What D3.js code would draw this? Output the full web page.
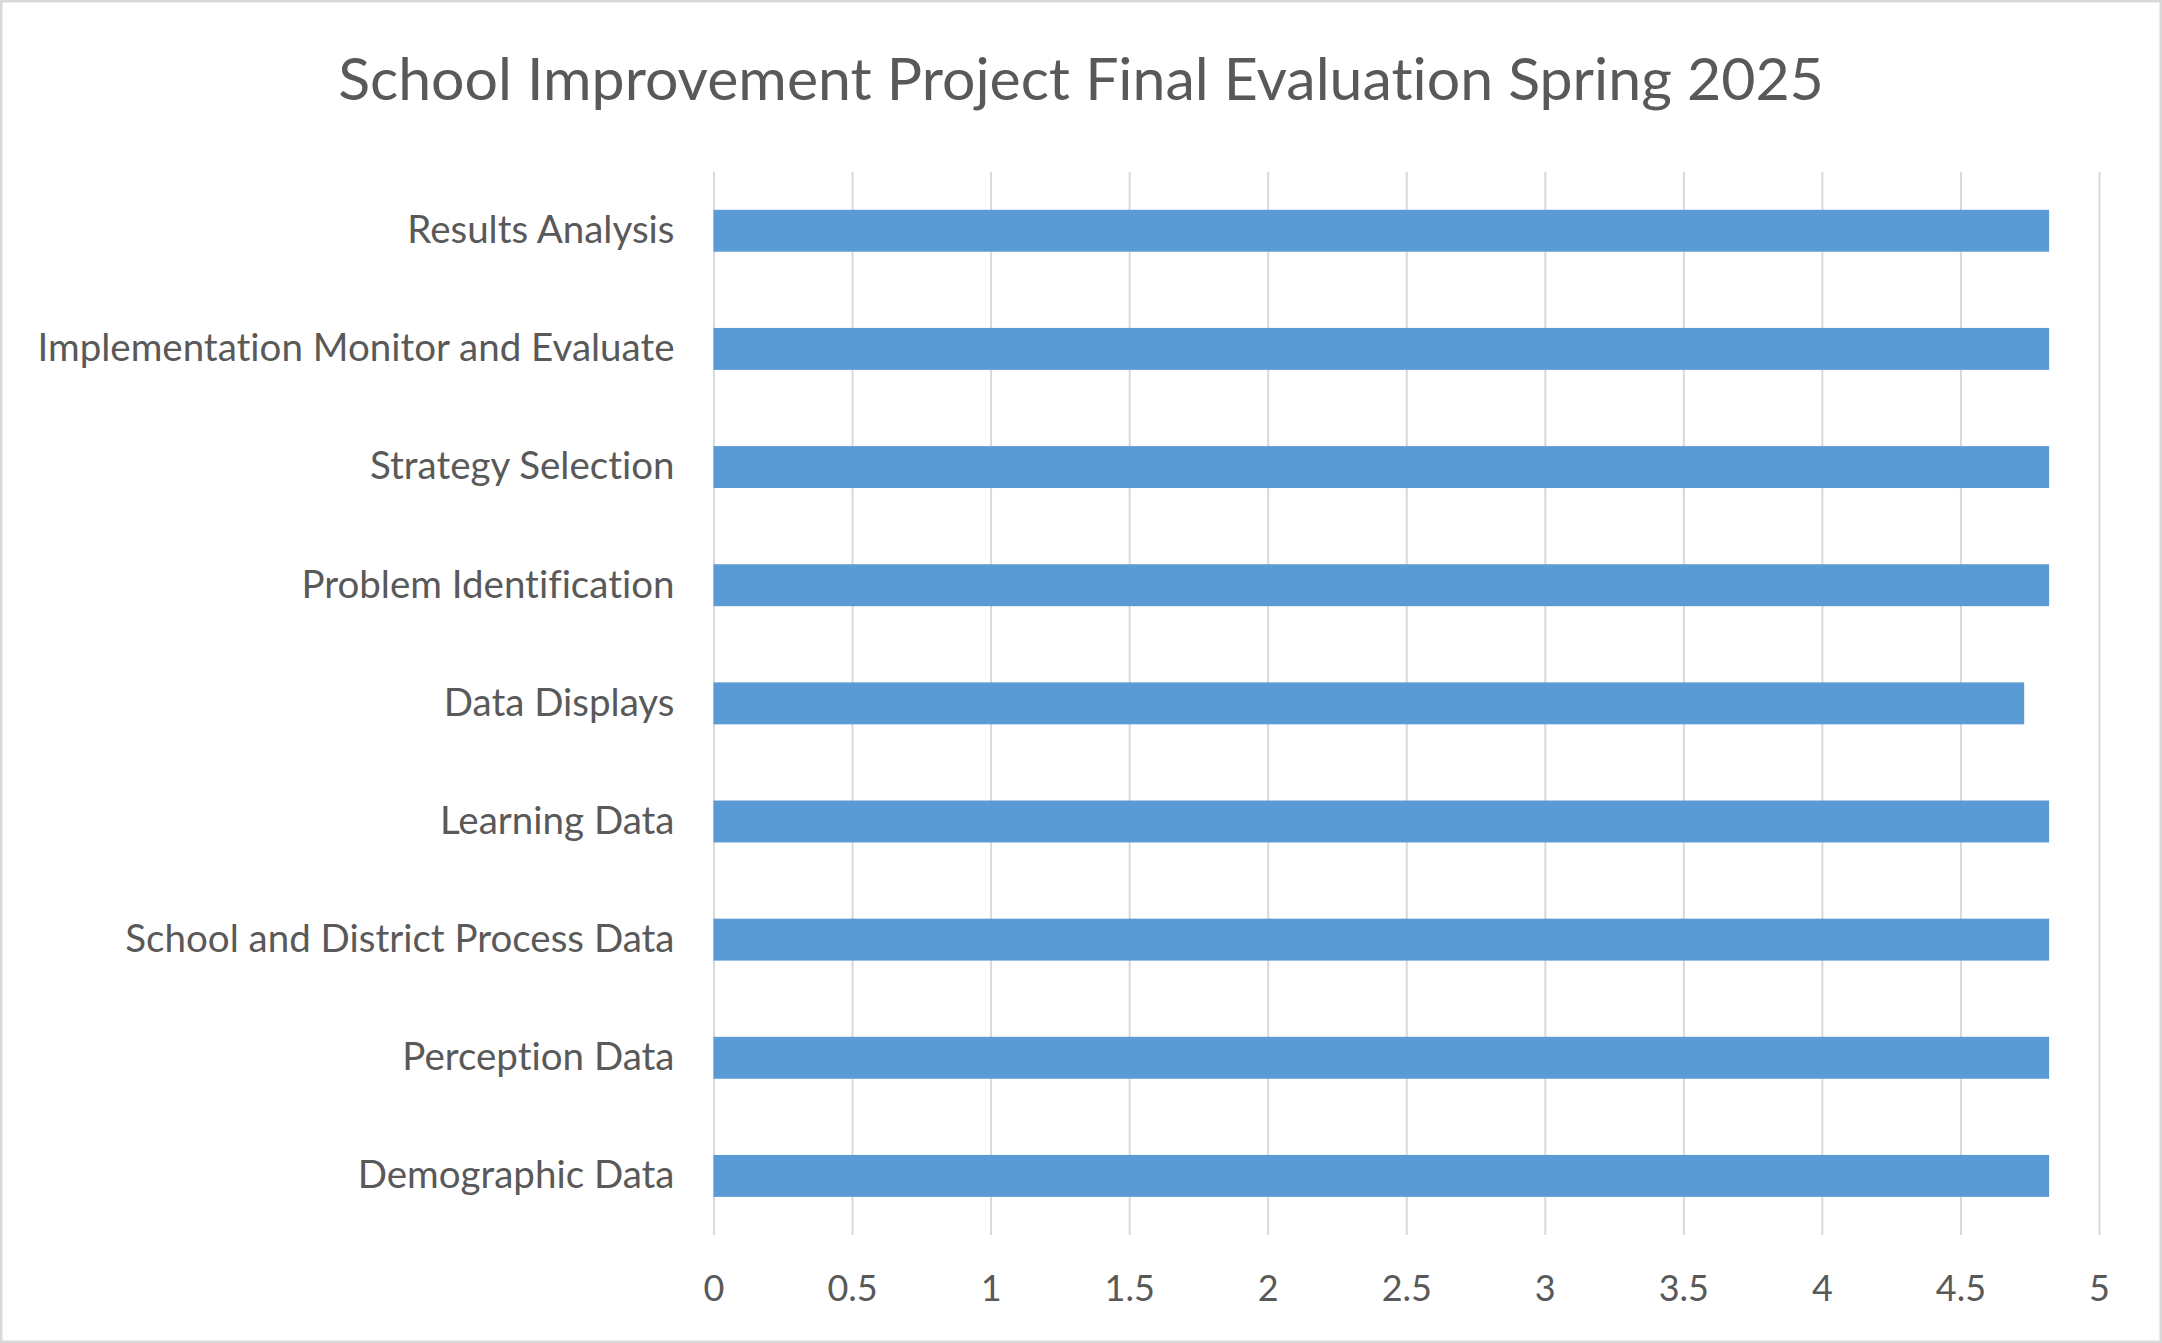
<!DOCTYPE html>
<html lang="en">
  <head>
    <meta charset="utf-8">
    <title>School Improvement Project Final Evaluation Spring 2025</title>
    <script type="text/javascript" src="https://cdn.jsdelivr.net/npm/d3@7"></script>
    <style>
      body { margin: 0; background: #fff; }
      text { font-family: Lato, "Open Sans", sans-serif; fill: #595959; font-variant-ligatures: none; }
      .grid line { stroke: #d9d9d9; stroke-width: 2; }
      .grid .domain { display: none; }
      .y-axis .domain { display: none; }
    </style>
  </head>
  <body>
    <script type="text/javascript">
      var w = 2162;
      var h = 1343;

      // data, top to bottom as drawn
      var categories = [
        "Results Analysis",
        "Implementation Monitor and Evaluate",
        "Strategy Selection",
        "Problem Identification",
        "Data Displays",
        "Learning Data",
        "School and District Process Data",
        "Perception Data",
        "Demographic Data"
      ];
      var scores = [4.82, 4.82, 4.82, 4.82, 4.73, 4.82, 4.82, 4.82, 4.82];
      var xTicks = [0, 0.5, 1, 1.5, 2, 2.5, 3, 3.5, 4, 4.5, 5];
      var chartTitle = "School Improvement Project Final Evaluation Spring 2025";

      var plotLeft = 713.5;
      var plotRight = 2099;
      var plotTop = 171.7;
      var plotBottom = 1235;

      var data = categories.map(function(c, i) {
        return { category: c, score: scores[i] };
      });

      var svg = d3.select("body")
        .append("svg")
        .attr("width", w)
        .attr("height", h);

      // outer chart border
      svg.append("rect")
        .attr("x", 1.25)
        .attr("y", 1.25)
        .attr("width", w - 2.5)
        .attr("height", h - 2.5)
        .attr("fill", "#fff")
        .attr("stroke", "#d9d9d9")
        .attr("stroke-width", 2.5);

      var xScale = d3.scaleLinear()
        .domain([0, 5])
        .range([plotLeft, plotRight]);

      var yScale = d3.scaleBand()
        .domain(categories)
        .range([plotTop, plotBottom])
        .paddingInner(0.645)
        .paddingOuter(0.3225);

      // vertical gridlines + tick labels
      var xAxis = d3.axisBottom(xScale)
        .tickValues(xTicks)
        .tickFormat(d3.format("~g"))
        .tickSize(-(plotBottom - plotTop))
        .tickPadding(40);

      svg.append("g")
        .attr("class", "grid")
        .attr("transform", "translate(0," + plotBottom + ")")
        .call(xAxis)
        .selectAll("text")
          .attr("font-size", 36);

      svg.selectAll("rect.bar")
        .data(data)
        .enter()
        .append("rect")
        .attr("class", "bar")
        .attr("x", xScale(0))
        .attr("y", function(d) { return yScale(d.category); })
        .attr("width", function(d) { return xScale(d.score) - xScale(0); })
        .attr("height", yScale.bandwidth())
        .attr("fill", "#5b9bd5");

      var yAxis = d3.axisLeft(yScale)
        .tickSize(0)
        .tickPadding(39);

      svg.append("g")
        .attr("class", "y-axis")
        .attr("transform", "translate(" + plotLeft + ",0)")
        .call(yAxis)
        .selectAll("text")
          .attr("font-size", 38.5);

      svg.append("text")
        .attr("x", w / 2)
        .attr("y", 100)
        .attr("text-anchor", "middle")
        .attr("font-size", 59)
        .text(chartTitle);
    </script>
  </body>
</html>
